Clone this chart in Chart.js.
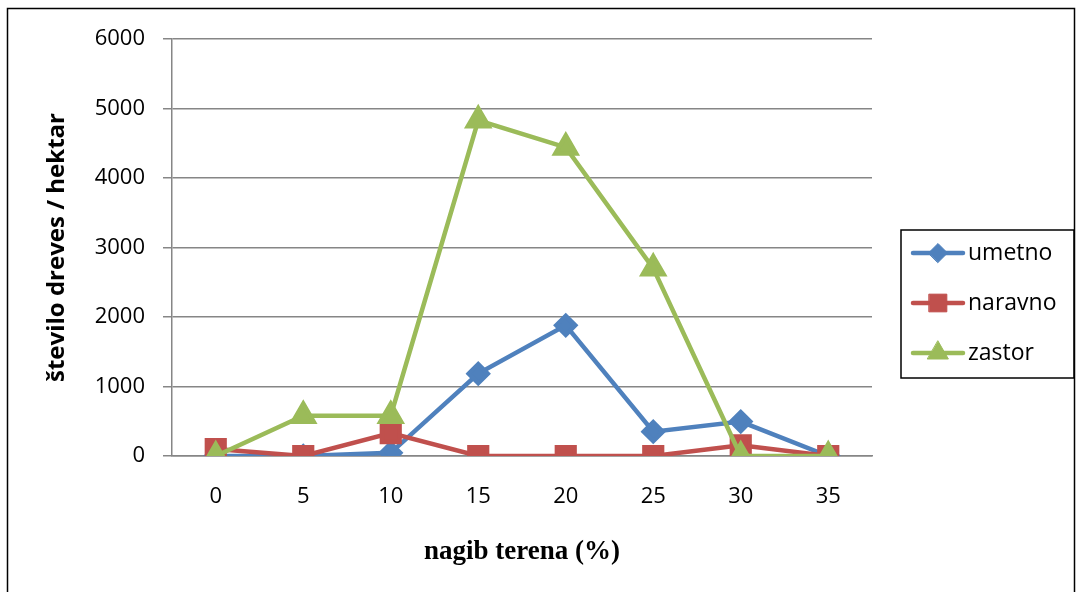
<!DOCTYPE html>
<html>
<head>
<meta charset="utf-8">
<script src="https://cdn.jsdelivr.net/npm/chart.js@4"></script>
<style>
  html, body { margin: 0; padding: 0; background: #fff; }
</style>
</head>
<body>
<canvas id="graf" width="1077" height="592"></canvas>
<script>
// nagib terena (%)
const kategorije = ['0', '5', '10', '15', '20', '25', '30', '35'];
const umetno  = [0, 0, 45, 1185, 1880, 350, 495, 0];
const naravno = [100, 0, 330, 0, 0, 0, 155, 0];
const zastor  = [0, 580, 580, 4830, 4440, 2700, 0, 0];
const yTicks  = [0, 1000, 2000, 3000, 4000, 5000, 6000];

// okvir okoli celotne slike
const okvir = {
    id: 'okvir',
    afterDraw(chart) {
        const c = chart.ctx;
        c.save();
        c.strokeStyle = '#000';
        c.lineWidth = 1.5;
        c.strokeRect(7.5, 8.5, 1067, 600);
        c.restore();
    }
};

// legenda z okvirjem (crta + oznaka)
const legenda = {
    id: 'legenda',
    afterDraw(chart) {
        const c = chart.ctx;
        const x0 = 901, y0 = 230, w = 173, h = 148;
        c.save();
        c.strokeStyle = '#000';
        c.lineWidth = 1.5;
        c.strokeRect(x0, y0, w, h);
        chart.data.datasets.forEach(function (ds, i) {
            const y = y0 + 23 + i * 50;
            c.strokeStyle = ds.borderColor;
            c.lineWidth = 4.5;
            c.lineCap = 'round';
            c.beginPath();
            c.moveTo(x0 + 12, y);
            c.lineTo(x0 + 62, y);
            c.stroke();
            c.fillStyle = ds.borderColor;
            c.lineWidth = 1;
            Chart.helpers.drawPoint(c, { pointStyle: ds.pointStyle, radius: ds.pointRadius, borderWidth: 1 }, x0 + 37, y);
            c.fillStyle = '#000';
            c.font = '23px "Open Sans"';
            c.textBaseline = 'middle';
            c.fillText(ds.label, x0 + 67, y);
        });
        c.restore();
    }
};

new Chart(document.getElementById('graf').getContext('2d'), {
    type: 'line',
    data: {
        labels: kategorije,
        datasets: [{
            label: 'umetno',
            data: umetno,
            order: 3,
            borderColor: '#4F81BD',
            backgroundColor: '#4F81BD',
            pointStyle: 'rectRot',
            pointRadius: 9.5,
            borderWidth: 4.5
        }, {
            label: 'naravno',
            data: naravno,
            order: 2,
            borderColor: '#C0504D',
            backgroundColor: '#C0504D',
            pointStyle: 'rect',
            pointRadius: 12.5,
            borderWidth: 4.5
        }, {
            label: 'zastor',
            data: zastor,
            order: 1,
            borderColor: '#9BBB59',
            backgroundColor: '#9BBB59',
            pointStyle: 'triangle',
            pointRadius: 12,
            borderWidth: 4.5
        }]
    },
    options: {
        responsive: false,
        animation: false,
        devicePixelRatio: 1,
        layout: { padding: { left: 10, right: 205, top: 39, bottom: 0 } },
        plugins: {
            legend: { display: false },
            tooltip: { enabled: false }
        },
        elements: { line: { tension: 0 }, point: { borderWidth: 1 } },
        scales: {
            x: {
                offset: true,
                afterFit: function (s) { s.height = 136; },
                grid: { display: false, tickLength: 0 },
                border: { color: '#868686', width: 1.5 },
                ticks: { color: '#000', font: { family: 'Open Sans', size: 22 }, padding: 28, maxRotation: 0 },
                title: {
                    display: true,
                    text: 'nagib terena (%)',
                    color: '#000',
                    font: { family: 'Liberation Serif', size: 27, weight: 'bold' },
                    padding: { top: 0, bottom: 24 }
                }
            },
            y: {
                min: 0,
                max: 6000,
                afterFit: function (s) { s.width = 162; },
                afterBuildTicks: function (s) { s.ticks = yTicks.map(v => ({ value: v })); },
                grid: { color: '#868686', lineWidth: 1.5, tickLength: 9 },
                border: { color: '#868686', width: 1.5 },
                ticks: {
                    color: '#000',
                    font: { family: 'Open Sans', size: 22 },
                    padding: 18,
                    callback: function (v) { return String(v); }
                },
                title: {
                    display: true,
                    text: 'število dreves / hektar',
                    color: '#000',
                    font: { family: 'Open Sans', size: 24, weight: 'bold' },
                    padding: { top: 33, bottom: 0 }
                }
            }
        }
    },
    plugins: [okvir, legenda]
});
</script>
</body>
</html>
